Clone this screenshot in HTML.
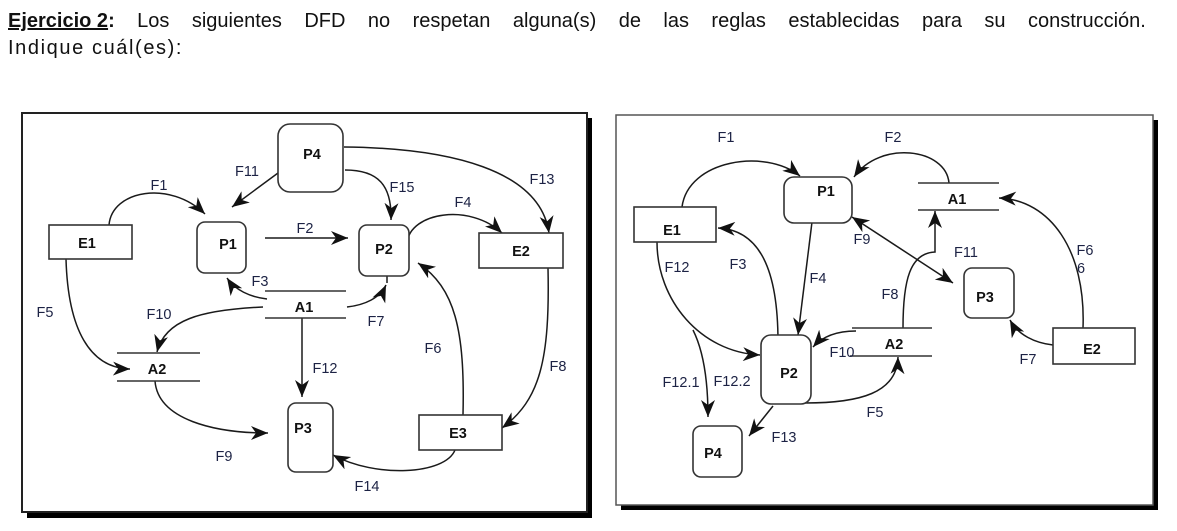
<!DOCTYPE html>
<html><head><meta charset="utf-8">
<style>
html,body{margin:0;padding:0;background:#fff;}
body{width:1177px;height:531px;position:relative;overflow:hidden;font-family:"Liberation Sans",Arial,sans-serif;}
.l1{position:absolute;left:8px;top:11px;width:1138px;display:flex;justify-content:space-between;font-size:20px;line-height:20px;color:#111;white-space:nowrap;}
.l2{position:absolute;left:8px;top:38px;font-size:20px;line-height:20px;color:#111;letter-spacing:1.6px;white-space:nowrap;}
svg{position:absolute;left:0;top:0;}
.c{fill:none;stroke:#1a1a1a;stroke-width:1.5;}
.n{fill:#fff;stroke:#333;stroke-width:1.6;}
.s{stroke:#333;stroke-width:1.5;}
.lb{font-family:"Liberation Sans",Arial,sans-serif;font-size:14.5px;fill:#1c2244;text-anchor:middle;}
.nb{font-family:"Liberation Sans",Arial,sans-serif;font-size:14.5px;font-weight:bold;fill:#111;text-anchor:middle;}
</style></head><body>
<div class="l1"><span><b><u>Ejercicio 2</u>:</b></span><span>Los</span><span>siguientes</span><span>DFD</span><span>no</span><span>respetan</span><span>alguna(s)</span><span>de</span><span>las</span><span>reglas</span><span>establecidas</span><span>para</span><span>su</span><span>construcción.</span></div>
<div class="l2">Indique cuál(es):</div>
<svg width="1177" height="531" viewBox="0 0 1177 531">
<defs>
<marker id="a" markerWidth="18" markerHeight="14" refX="17" refY="7" orient="auto" markerUnits="userSpaceOnUse"><path d="M0,0 L17,7 L0,14 L5,7 z" fill="#111"/></marker>
<marker id="b" markerWidth="18" markerHeight="14" refX="17" refY="7" orient="auto-start-reverse" markerUnits="userSpaceOnUse"><path d="M0,0 L17,7 L0,14 L5,7 z" fill="#111"/></marker>
</defs>

<!-- LEFT FRAME -->
<rect x="27" y="118" width="565" height="400" fill="#000"/>
<rect x="22" y="113" width="565" height="399" fill="#fff" stroke="#222" stroke-width="2"/>

<!-- RIGHT FRAME -->
<rect x="621" y="120" width="537" height="390" fill="#000"/>
<rect x="616" y="115" width="537" height="390" fill="#fff" stroke="#555" stroke-width="1.5"/>

<!-- LEFT connectors -->
<path class="c" d="M109,225 C112,190 170,180 205,214" marker-end="url(#a)"/>
<path class="c" d="M278,173 L232,207" marker-end="url(#a)"/>
<path class="c" d="M265,238 L348,238" marker-end="url(#a)"/>
<path class="c" d="M267,299 C250,297 235,290 227,278" marker-end="url(#a)"/>
<path class="c" d="M263,307 C200,310 165,320 157,352" marker-end="url(#a)"/>
<path class="c" d="M66,259 C68,330 90,368 130,369" marker-end="url(#a)"/>
<path class="c" d="M155,381 C158,420 215,433 268,433" marker-end="url(#a)"/>
<path class="c" d="M302,318 L302,397" marker-end="url(#a)"/>
<path class="c" d="M455,450 C445,475 375,478 333,455" marker-end="url(#a)"/>
<path class="c" d="M463,415 C465,330 455,288 418,263" marker-end="url(#a)"/>
<path class="c" d="M548,268 C550,360 540,400 502,428" marker-end="url(#a)"/>
<path class="c" d="M347,307 C365,305 380,298 386,285" marker-end="url(#a)"/>
<path class="c" d="M387,276 L387,283"/>
<path class="c" d="M345,170 C378,170 392,185 391,220" marker-end="url(#a)"/>
<path class="c" d="M407,243 C410,212 470,203 502,233" marker-end="url(#a)"/>
<path class="c" d="M344,147 C450,148 540,170 549,233" marker-end="url(#a)"/>

<!-- LEFT nodes -->
<rect class="n" x="49" y="225" width="83" height="34"/>
<rect class="n" x="197" y="222" width="49" height="51" rx="8"/>
<rect class="n" x="278" y="124" width="65" height="68" rx="12"/>
<rect class="n" x="359" y="225" width="50" height="51" rx="8"/>
<rect class="n" x="479" y="233" width="84" height="35"/>
<rect class="n" x="288" y="403" width="45" height="69" rx="8"/>
<rect class="n" x="419" y="415" width="83" height="35"/>
<line class="s" x1="265" y1="291" x2="346" y2="291"/>
<line class="s" x1="265" y1="318" x2="346" y2="318"/>
<line class="s" x1="117" y1="353" x2="200" y2="353"/>
<line class="s" x1="117" y1="381" x2="200" y2="381"/>

<!-- LEFT node labels -->
<text class="nb" x="87" y="248">E1</text>
<text class="nb" x="228" y="249">P1</text>
<text class="nb" x="312" y="159">P4</text>
<text class="nb" x="384" y="254">P2</text>
<text class="nb" x="521" y="256">E2</text>
<text class="nb" x="304" y="312">A1</text>
<text class="nb" x="157" y="374">A2</text>
<text class="nb" x="303" y="433">P3</text>
<text class="nb" x="458" y="438">E3</text>

<!-- LEFT flow labels -->
<text class="lb" x="159" y="190">F1</text>
<text class="lb" x="247" y="176">F11</text>
<text class="lb" x="305" y="233">F2</text>
<text class="lb" x="260" y="286">F3</text>
<text class="lb" x="159" y="319">F10</text>
<text class="lb" x="45" y="317">F5</text>
<text class="lb" x="224" y="461">F9</text>
<text class="lb" x="325" y="373">F12</text>
<text class="lb" x="367" y="491">F14</text>
<text class="lb" x="433" y="353">F6</text>
<text class="lb" x="558" y="371">F8</text>
<text class="lb" x="376" y="326">F7</text>
<text class="lb" x="402" y="192">F15</text>
<text class="lb" x="463" y="207">F4</text>
<text class="lb" x="542" y="184">F13</text>

<!-- RIGHT connectors -->
<path class="c" d="M682,207 C688,160 765,148 800,176" marker-end="url(#a)"/>
<path class="c" d="M949,183 C946,148 880,140 854,177" marker-end="url(#a)"/>
<path class="c" d="M852,217 L953,283" marker-start="url(#b)" marker-end="url(#b)"/>
<path class="c" d="M903,328 C903,280 910,253 935,252 L935,211" marker-end="url(#a)"/>
<path class="c" d="M1083,328 C1086,250 1050,200 999,198" marker-end="url(#a)"/>
<path class="c" d="M1053,345 C1035,343 1018,335 1010,320" marker-end="url(#a)"/>
<path class="c" d="M856,331 C835,331 822,337 813,347" marker-end="url(#a)"/>
<path class="c" d="M805,403 C860,403 897,393 898,357" marker-end="url(#a)"/>
<path class="c" d="M812,222 L798,335" marker-end="url(#a)"/>
<path class="c" d="M778,342 C778,270 760,230 718,228" marker-end="url(#a)"/>
<path class="c" d="M657,242 C657,300 700,352 760,355" marker-end="url(#a)"/>
<path class="c" d="M693,330 C703,350 708,380 708,417" marker-end="url(#a)"/>
<path class="c" d="M773,406 L749,436" marker-end="url(#a)"/>

<!-- RIGHT nodes -->
<rect class="n" x="634" y="207" width="82" height="35"/>
<rect class="n" x="784" y="177" width="68" height="46" rx="10"/>
<rect class="n" x="964" y="268" width="50" height="50" rx="8"/>
<rect class="n" x="1053" y="328" width="82" height="36"/>
<rect class="n" x="761" y="335" width="50" height="69" rx="10"/>
<rect class="n" x="693" y="426" width="49" height="51" rx="8"/>
<line class="s" x1="918" y1="183" x2="999" y2="183"/>
<line class="s" x1="918" y1="210" x2="999" y2="210"/>
<line class="s" x1="852" y1="328" x2="932" y2="328"/>
<line class="s" x1="850" y1="356" x2="932" y2="356"/>

<!-- RIGHT node labels -->
<text class="nb" x="672" y="235">E1</text>
<text class="nb" x="826" y="196">P1</text>
<text class="nb" x="957" y="204">A1</text>
<text class="nb" x="985" y="302">P3</text>
<text class="nb" x="1092" y="354">E2</text>
<text class="nb" x="894" y="349">A2</text>
<text class="nb" x="789" y="378">P2</text>
<text class="nb" x="713" y="458">P4</text>

<!-- RIGHT flow labels -->
<text class="lb" x="726" y="142">F1</text>
<text class="lb" x="893" y="142">F2</text>
<text class="lb" x="862" y="244">F9</text>
<text class="lb" x="966" y="257">F11</text>
<text class="lb" x="677" y="272">F12</text>
<text class="lb" x="738" y="269">F3</text>
<text class="lb" x="818" y="283">F4</text>
<text class="lb" x="890" y="299">F8</text>
<text class="lb" x="1085" y="255">F6</text>
<text class="lb" x="1081" y="273">6</text>
<text class="lb" x="842" y="357">F10</text>
<text class="lb" x="1028" y="364">F7</text>
<text class="lb" x="681" y="387">F12.1</text>
<text class="lb" x="732" y="386">F12.2</text>
<text class="lb" x="875" y="417">F5</text>
<text class="lb" x="784" y="442">F13</text>
</svg>
</body></html>
